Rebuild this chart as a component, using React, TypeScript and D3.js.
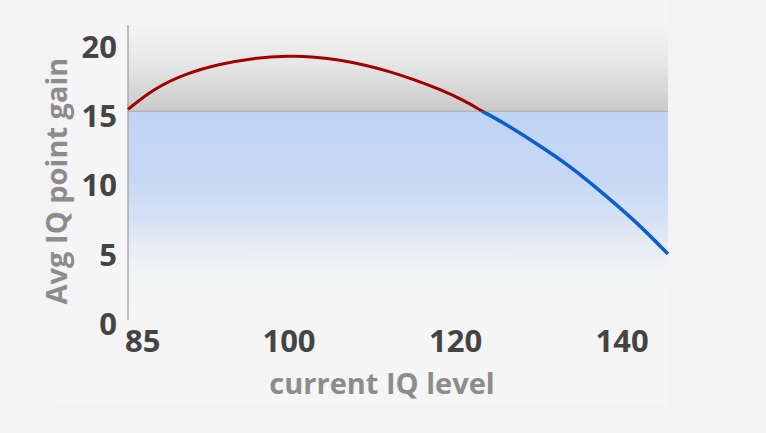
import { useEffect, useRef } from "react";
import * as d3 from "d3";

// curve: current IQ -> avg IQ point gain
const iqLevels = [85, 87.33, 90.5, 93.57, 96.65, 100, 103.12, 106.12, 109.12, 112.13, 115.13, 118.13, 121.13, 123.17, 125.69, 129.77, 133.74, 137.7, 141.78, 145.5];
const gains = [15.13, 16.61, 17.76, 18.41, 18.84, 19.01, 18.93, 18.7, 18.34, 17.86, 17.26, 16.58, 15.75, 15.0, 14.2, 12.65, 11.05, 9.08, 6.97, 4.69];

const threshold = 15;
const xTicks = [85, 100, 120, 140];
const yTicks = [0, 5, 10, 15, 20];

export default function App() {
  const ref = useRef<HTMLDivElement>(null);

  useEffect(() => {
    if (!ref.current) return;
    const container = ref.current;
    container.innerHTML = "";

    const width = 766;
    const height = 433;
    const plot = { left: 128, right: 668, top: 25, bottom: 320 };

    const svg = d3
      .select(container)
      .append("svg")
      .attr("width", width)
      .attr("height", height)
      .style("display", "block");

    // x axis is stretched between 85 and 100, like the original
    const x = d3.scaleLinear().domain([85, 100, 145.5]).range([plot.left, 289, plot.right]);
    const y = d3.scaleLinear().domain([0, 20]).range([319, 42]);

    const defs = svg.append("defs");
    const grayGrad = defs
      .append("linearGradient")
      .attr("id", "grayGrad")
      .attr("x1", 0).attr("x2", 0).attr("y1", 0).attr("y2", 1);
    grayGrad.append("stop").attr("offset", "0%").attr("stop-color", "#f3f3f3");
    grayGrad.append("stop").attr("offset", "40%").attr("stop-color", "#e8e8e8");
    grayGrad.append("stop").attr("offset", "100%").attr("stop-color", "#cacaca");

    const blueGrad = defs
      .append("linearGradient")
      .attr("id", "blueGrad")
      .attr("x1", 0).attr("x2", 0).attr("y1", 0).attr("y2", 1);
    [
      [0, "#c1d4f4"],
      [0.3, "#c5d7f4"],
      [0.52, "#d6e1f4"],
      [0.67, "#e9edf4"],
      [0.78, "#f3f4f5"],
      [1, "#f5f5f5"],
    ].forEach(([o, c]) => {
      blueGrad.append("stop").attr("offset", `${(o as number) * 100}%`).attr("stop-color", c as string);
    });

    // clip regions above / below the threshold, so one smooth curve changes colour
    defs.append("clipPath").attr("id", "clipAbove")
      .append("rect").attr("x", 0).attr("y", 0).attr("width", width).attr("height", y(threshold));
    defs.append("clipPath").attr("id", "clipBelow")
      .append("rect").attr("x", 0).attr("y", y(threshold)).attr("width", width).attr("height", height);

    // faint panel behind the chart
    svg.append("rect").attr("x", 57).attr("y", 0).attr("width", plot.right - 57).attr("height", 405).attr("fill", "#f5f5f5");

    // band above the threshold
    svg.append("rect")
      .attr("x", plot.left)
      .attr("y", plot.top)
      .attr("width", plot.right - plot.left)
      .attr("height", y(threshold) - plot.top)
      .attr("fill", "url(#grayGrad)");

    // band below the threshold
    svg.append("rect")
      .attr("x", plot.left)
      .attr("y", y(threshold))
      .attr("width", plot.right - plot.left)
      .attr("height", y(0) - y(threshold))
      .attr("fill", "url(#blueGrad)");

    svg.append("line")
      .attr("x1", plot.left).attr("x2", plot.right)
      .attr("y1", y(threshold)).attr("y2", y(threshold))
      .attr("stroke", "#a9a9a9")
      .attr("stroke-width", 1);

    // y axis line
    svg.append("line")
      .attr("x1", plot.left).attr("x2", plot.left)
      .attr("y1", plot.top).attr("y2", plot.bottom)
      .attr("stroke", "#a8a8a8")
      .attr("stroke-width", 1.5);

    const pts = iqLevels.map((v, i) => ({ iq: v, gain: gains[i] }));

    const line = d3
      .line<{ iq: number; gain: number }>()
      .x((d) => x(d.iq))
      .y((d) => y(d.gain))
      .curve(d3.curveBasis);

    svg.append("path").attr("d", line(pts)).attr("clip-path", "url(#clipBelow)")
      .attr("fill", "none").attr("stroke", "#0a5fcf").attr("stroke-width", 3.5);
    svg.append("path").attr("d", line(pts)).attr("clip-path", "url(#clipAbove)")
      .attr("fill", "none").attr("stroke", "#a30000").attr("stroke-width", 3);

    const font = "'Open Sans', sans-serif";

    // y tick labels
    svg.append("g")
      .selectAll("text")
      .data(yTicks)
      .join("text")
      .attr("x", 117)
      .attr("y", (d) => y(d) + 5)
      .attr("dy", "0.35em")
      .attr("text-anchor", "end")
      .style("font-family", font)
      .style("font-weight", 700)
      .style("font-size", "31px")
      .style("fill", "#444")
      .text((d) => d);

    // x tick labels (first one sits at the axis start)
    svg.append("g")
      .selectAll("text")
      .data(xTicks)
      .join("text")
      .attr("x", (d, i) => (i === 0 ? 125 : x(d)))
      .attr("y", 341)
      .attr("dy", "0.35em")
      .attr("text-anchor", (d, i) => (i === 0 ? "start" : "middle"))
      .style("font-family", font)
      .style("font-weight", 700)
      .style("font-size", "31px")
      .style("fill", "#444")
      .text((d) => d);

    svg.append("text")
      .attr("x", 382)
      .attr("y", 384)
      .attr("dy", "0.35em")
      .attr("text-anchor", "middle")
      .style("font-family", font)
      .style("font-weight", 700)
      .style("font-size", "29px")
      .style("fill", "#8c8c8c")
      .text("current IQ level");

    svg.append("text")
      .attr("transform", "translate(57,181) rotate(-90)")
      .attr("dy", "0.35em")
      .attr("text-anchor", "middle")
      .style("font-family", font)
      .style("font-weight", 700)
      .style("font-size", "29px")
      .style("fill", "#8c8c8c")
      .text("Avg IQ point gain");
  }, []);

  return (
    <div
      ref={ref}
      style={{ position: "fixed", left: 0, top: 0, width: 766, height: 433, background: "#f3f3f3", overflow: "hidden" }}
    />
  );
}
